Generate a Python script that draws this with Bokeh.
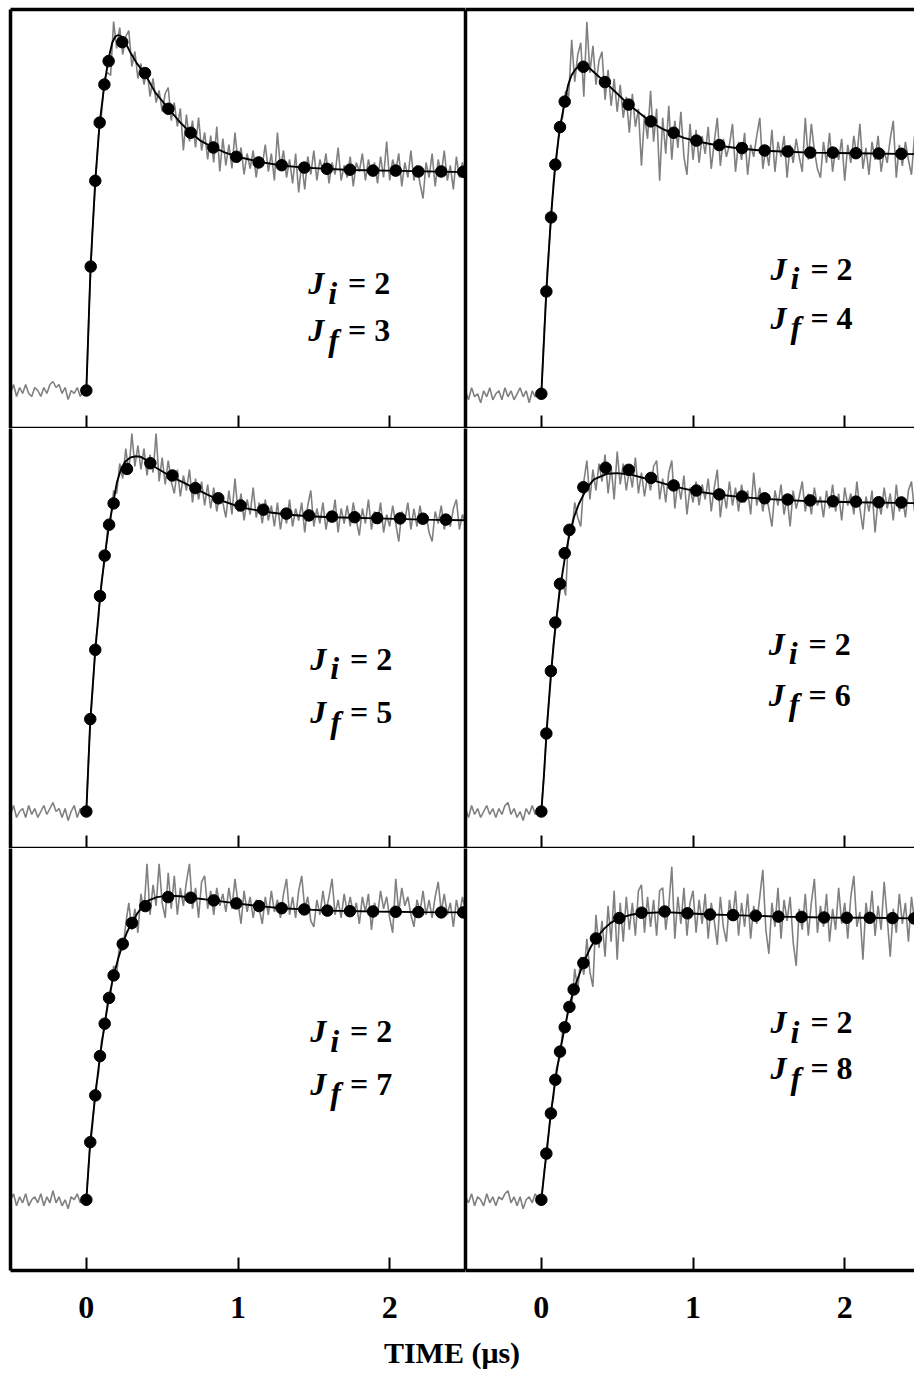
import numpy as np
from bokeh.plotting import figure
from bokeh.layouts import gridplot, column
from bokeh.models import Label, FixedTicker, LinearAxis, Range1d, Div
from bokeh.embed import file_html
from bokeh.resources import INLINE

# ---------------- data (time in microseconds, signal in arbitrary units, baseline = 0) -------------
TICKS = [0, 1, 2]
TRACE_T0 = -0.5
TRACE_DT = 0.02

# J_i = 2 -> J_f = 3
JF3_DOT_T = [0, 0.029, 0.059, 0.088, 0.119, 0.147, 0.237, 0.387, 0.541, 0.688, 0.837, 0.989, 1.136, 1.288, 1.437, 1.586, 1.738, 1.89, 2.04, 2.189, 2.34, 2.485]
JF3_DOT_V = [0, 41.3, 69.9, 89.3, 102.0, 109.8, 116.1, 105.8, 93.9, 85.9, 81.0, 77.9, 76.0, 75.1, 74.3, 73.9, 73.6, 73.3, 73.3, 73.0, 73.0, 72.9]
JF3_FIT_T = [0, 0.028, 0.059, 0.088, 0.119, 0.147, 0.171, 0.191, 0.211, 0.231, 0.257, 0.29, 0.33, 0.389, 0.455, 0.541, 0.62, 0.686, 0.751, 0.837, 0.916, 0.989, 1.134, 1.285, 1.437, 1.74, 2.07, 2.5]
JF3_FIT_V = [0, 41.3, 70.0, 89.3, 102.0, 110.7, 116.0, 118.0, 118.5, 118.0, 116.0, 112.7, 109.3, 105.3, 99.3, 94.0, 89.3, 86.0, 83.3, 81.0, 79.3, 78.0, 76.3, 75.0, 74.3, 73.5, 73.2, 72.8]
JF3_TRACE = [-1, 2, -2, 1, -1, 2, -1, -2, 1, 0, -2, 1, -1, 2, 3, 1, 2, -1, 1, -3, 0, -1, 1, -2, 0,
             0, 30, 53, 69, 85, 92, 104, 106,
             105, 123, 114, 121, 112, 118, 120, 108, 113, 104, 109, 102, 107,
             98, 104, 96, 100, 93, 99, 101, 90, 96, 88, 94, 80, 92, 83, 90, 81, 91, 80, 86, 77,
             85, 76, 88, 73, 84, 75, 82, 74, 86, 76,
             81, 72, 79, 74, 80, 71, 78, 75, 82, 73, 79, 70, 86, 74, 80, 71, 77, 69, 79, 66,
             76, 67, 78, 72, 80, 70, 77, 73, 79, 69, 76, 72, 81, 70, 75, 71, 78, 68, 76, 73,
             79, 70, 77, 72, 76, 69, 78, 71, 83, 70, 77, 73, 79, 68, 76, 71, 80, 70, 75, 69,
             64, 76, 71, 79, 68, 77, 72, 80, 70, 75, 67, 78, 71, 76, 70]

# J_i = 2 -> J_f = 4
JF4_DOT_T = [0, 0.033, 0.064, 0.092, 0.123, 0.154, 0.277, 0.419, 0.575, 0.722, 0.872, 1.022, 1.173, 1.323, 1.472, 1.624, 1.773, 1.922, 2.074, 2.224, 2.373]
JF4_DOT_V = [0, 34.1, 58.8, 76.4, 88.9, 97.4, 109.0, 103.9, 96.4, 90.8, 87.0, 84.4, 82.9, 81.9, 81.1, 80.8, 80.4, 80.4, 80.2, 80.1, 80.0]
JF4_FIT_T = [0, 0.033, 0.063, 0.092, 0.123, 0.154, 0.176, 0.198, 0.226, 0.255, 0.277, 0.303, 0.347, 0.42, 0.501, 0.576, 0.655, 0.723, 0.798, 0.872, 0.94, 1.022, 1.173, 1.323, 1.472, 1.624, 1.773, 2.074, 2.46]
JF4_FIT_V = [0, 34.1, 58.8, 76.4, 88.9, 97.4, 102.8, 106.1, 108.3, 109.4, 109.8, 109.2, 107.2, 103.9, 100.0, 96.4, 93.3, 90.5, 88.3, 86.7, 85.3, 84.2, 82.7, 81.7, 81.0, 80.7, 80.4, 80.2, 79.9]
JF4_TRACE = [1, -2, 2, -1, 0, -3, 1, -1, 2, -2, 0, 1, -2, 2, -1, 1, -2, 0, 2, -1, 1, -3, 1, -1, 0,
             0,
             22, 42, 55, 71, 78, 90, 92, 101, 99, 118, 104, 113, 117, 99, 124, 107, 116, 103, 111, 114,
             98, 108, 96, 105, 94, 103, 92, 99, 87, 100, 89, 95, 76, 93, 85, 101, 84, 95, 71, 92,
             80, 96, 78, 91, 82, 94, 79, 73, 90, 78,
             88, 77, 86, 80, 89, 75, 84, 92, 76, 85, 79, 83, 90, 74, 84, 78, 87, 73, 83, 79,
             86, 92, 75, 82, 76, 88, 74, 84, 79, 86, 72, 83, 77, 85, 79, 74, 92, 78, 90, 81,
             75, 72, 84, 77, 87, 74, 82, 78, 85, 71, 83, 77, 86, 79, 90, 75, 82, 73, 84, 78,
             86, 74, 81, 77, 85, 91, 72, 83, 76, 84, 78, 73, 86, 79, 82]

# J_i = 2 -> J_f = 5
JF5_DOT_T = [0, 0.026, 0.059, 0.090, 0.121, 0.150, 0.180, 0.268, 0.422, 0.567, 0.719, 0.870, 1.017, 1.167, 1.319, 1.468, 1.62, 1.769, 1.918, 2.069, 2.219, 2.37]
JF5_DOT_V = [0, 30.8, 53.9, 71.8, 85.3, 95.6, 102.7, 114.2, 116.1, 112.0, 107.8, 104.4, 102.0, 100.6, 99.3, 98.7, 98.3, 98.1, 97.8, 97.7, 97.6, 97.3]
JF5_FIT_T = [0, 0.026, 0.059, 0.09, 0.121, 0.149, 0.18, 0.202, 0.229, 0.257, 0.29, 0.323, 0.356, 0.4, 0.444, 0.51, 0.567, 0.642, 0.719, 0.795, 0.87, 0.949, 1.017, 1.167, 1.318, 1.468, 1.619, 1.918, 2.219, 2.5]
JF5_FIT_V = [0, 30.4, 53.6, 71.4, 85.0, 95.2, 103.7, 109.8, 114.2, 116.7, 118.0, 118.4, 118.3, 117.0, 115.1, 113.1, 111.4, 109.6, 107.6, 105.7, 104.0, 102.6, 101.4, 100.0, 99.0, 98.4, 98.1, 97.7, 97.3, 97.1]
JF5_TRACE = [-1, 2, -2, 0, 1, -2, 2, -1, 1, -2, 0, 2, -1, 1, 3, 0, 1, -2, 1, -3, 0, 2, -2, 1, 0,
             0,
             24, 39, 56, 64, 77, 83, 94, 97, 107, 106, 116, 111, 121, 113, 126, 115, 122, 114, 121, 112,
             119, 113, 126, 110, 118, 109, 117, 110, 106, 114, 105, 112, 107, 114, 103, 111, 104, 110, 102, 109,
             101, 108, 100, 106, 103, 98, 107, 99, 111, 100,
             106, 97, 104, 99, 108, 98, 103, 96, 104, 97, 102, 95, 103, 94, 101, 96, 104, 95, 101, 97,
             103, 93, 102, 107, 95, 101, 96, 103, 94, 100, 97, 104, 93, 101, 96, 102, 95, 103, 97, 92,
             101, 96, 104, 94, 100, 96, 103, 93, 99, 95, 102, 96, 90, 100, 97, 103, 94, 101, 95, 102,
             96, 99, 93, 90, 100, 96, 102, 94, 99, 95, 101, 104, 94, 99, 96]

# J_i = 2 -> J_f = 6
JF6_DOT_T = [0, 0.033, 0.063, 0.092, 0.123, 0.154, 0.185, 0.277, 0.424, 0.576, 0.723, 0.872, 1.022, 1.173, 1.323, 1.472, 1.624, 1.773, 1.922, 2.074, 2.224, 2.373]
JF6_DOT_V = [0, 26.0, 46.8, 63.0, 75.9, 86.1, 93.9, 108.1, 114.6, 113.9, 111.2, 108.7, 107.0, 105.7, 105.0, 104.4, 104.0, 103.7, 103.4, 103.3, 103.1, 103.0]
JF6_FIT_T = [0, 0.017, 0.033, 0.063, 0.092, 0.123, 0.154, 0.184, 0.215, 0.248, 0.281, 0.314, 0.347, 0.435, 0.501, 0.589, 0.72, 0.872, 1.022, 1.173, 1.323, 1.472, 1.624, 1.773, 2.074, 2.461]
JF6_FIT_V = [0, 12.0, 25.3, 45.9, 61.4, 74.2, 84.2, 92.0, 98.1, 102.6, 105.9, 108.7, 110.7, 112.6, 112.8, 112.3, 110.6, 108.4, 106.7, 105.6, 104.8, 104.2, 103.8, 103.4, 103.1, 102.8]
JF6_TRACE = [1, -2, 2, -1, 1, -2, 0, 2, -1, 1, -2, 1, -1, 2, 3, -1, 1, -2, 0, -3, 1, -1, 2, -1, 0,
             0,
             14, 31, 42, 56, 63, 75, 77, 72, 93, 92, 103, 98, 95, 110, 117, 104, 114, 107, 116, 110,
             119, 106, 115, 104, 120, 109, 116, 107, 114, 108, 118, 106, 113, 105, 112, 107, 115, 117, 104, 111,
             103, 113, 117, 101, 110, 104, 112, 99, 108, 103,
             110, 102, 109, 104, 111, 100, 108, 114, 98, 107, 101, 110, 102, 108, 100, 109, 103, 107, 99, 113,
             102, 108, 100, 106, 101, 95, 107, 102, 109, 99, 105, 95, 107, 101, 105, 110, 100, 106, 99, 108,
             102, 105, 98, 107, 101, 109, 100, 106, 97, 108, 102, 106, 99, 110, 101, 94, 105, 100, 107, 93,
             104, 99, 108, 101, 106, 97, 109, 100, 105, 98, 107, 110, 100, 104, 102]

# J_i = 2 -> J_f = 7
JF7_DOT_T = [0, 0.026, 0.059, 0.090, 0.121, 0.150, 0.180, 0.24, 0.301, 0.389, 0.539, 0.688, 0.84, 0.989, 1.139, 1.288, 1.437, 1.589, 1.738, 1.89, 2.04, 2.189, 2.34, 2.485]
JF7_DOT_V = [0, 19.2, 34.8, 47.9, 58.7, 67.3, 74.8, 85.3, 92.3, 97.9, 100.9, 100.7, 99.8, 98.8, 97.9, 97.2, 96.8, 96.4, 96.2, 96.1, 96.0, 95.9, 95.8, 95.8]
JF7_FIT_T = [0, 0.026, 0.059, 0.09, 0.121, 0.149, 0.18, 0.213, 0.24, 0.268, 0.301, 0.334, 0.367, 0.411, 0.466, 0.539, 0.62, 0.688, 0.84, 0.989, 1.139, 1.288, 1.437, 1.589, 1.89, 2.189, 2.5]
JF7_FIT_V = [0, 19.2, 34.8, 47.9, 58.7, 67.3, 74.8, 80.9, 85.3, 89.2, 92.5, 95.3, 97.5, 99.8, 100.9, 101.4, 101.2, 100.7, 99.8, 98.8, 97.9, 97.2, 96.8, 96.4, 96.1, 95.9, 95.8]
JF7_TRACE = [0, 2, -2, 1, -1, 2, -2, 0, 1, -1, 2, -2, 1, -1, 3, -1, 1, -2, 0, -3, 1, 0, 2, -1, 0,
             0,
             16, 24, 37, 42, 53, 57, 66, 68, 78, 75, 86, 83, 92, 99, 90, 97, 89, 102, 96, 112,
             95, 105, 98, 112, 99, 94, 109, 97, 108, 95, 104, 98, 106, 112, 97, 104, 94, 106, 108, 97,
             103, 95, 104, 98, 102, 96, 104, 97, 107, 99,
             92, 103, 96, 101, 94, 100, 97, 92, 101, 95, 103, 96, 100, 94, 102, 107, 95, 101, 94, 103,
             108, 97, 101, 93, 91, 100, 95, 103, 96, 101, 107, 95, 100, 94, 102, 96, 101, 95, 99, 92,
             101, 96, 102, 90, 99, 95, 103, 97, 101, 94, 89, 107, 96, 104, 98, 101, 95, 91, 100, 96,
             103, 95, 100, 94, 101, 106, 96, 102, 95, 99, 91, 100, 95, 101, 96]

# J_i = 2 -> J_f = 8
JF8_DOT_T = [0, 0.033, 0.063, 0.092, 0.123, 0.154, 0.185, 0.213, 0.277, 0.36, 0.514, 0.661, 0.813, 0.963, 1.112, 1.264, 1.413, 1.563, 1.715, 1.864, 2.013, 2.165, 2.315, 2.458]
JF8_DOT_V = [0, 15.4, 28.8, 40.0, 49.4, 57.5, 64.3, 70.1, 78.9, 87.1, 93.9, 95.7, 96.1, 95.5, 95.1, 94.9, 94.7, 94.4, 94.3, 94.1, 94.0, 94.0, 93.9, 93.8]
JF8_FIT_T = [0, 0.033, 0.063, 0.092, 0.123, 0.154, 0.184, 0.213, 0.248, 0.277, 0.325, 0.36, 0.413, 0.457, 0.514, 0.589, 0.661, 0.813, 0.963, 1.112, 1.264, 1.563, 1.864, 2.165, 2.461]
JF8_FIT_V = [0, 15.4, 28.8, 40.0, 49.4, 57.5, 64.3, 70.1, 74.8, 78.9, 84.2, 87.1, 90.3, 92.3, 93.9, 95.0, 95.5, 95.9, 95.5, 95.1, 94.9, 94.4, 94.1, 94.0, 93.8]
JF8_TRACE = [1, -1, 2, -2, 1, 0, -2, 2, -1, 1, -2, 1, 0, 2, 3, -1, 1, -2, 1, -3, 0, 1, -1, 2, 0,
             0,
             10, 17, 29, 34, 44, 47, 56, 57, 66, 64, 77, 70, 81, 75, 87, 76, 71, 95, 84, 93,
             81, 98, 86, 103, 80, 99, 86, 101, 90, 99, 88, 103, 105, 89, 101, 91, 100, 88, 103, 104,
             90, 98, 111, 87, 101, 92, 104, 88, 99, 103,
             89, 100, 92, 102, 87, 99, 93, 85, 101, 91, 86, 100, 93, 103, 88, 99, 91, 102, 87, 98,
             92, 101, 110, 90, 82, 99, 91, 104, 87, 100, 93, 101, 86, 78, 97, 90, 102, 88, 99, 107,
             89, 98, 91, 102, 86, 97, 90, 104, 92, 99, 87, 101, 108, 91, 96, 80, 99, 92, 103, 88,
             98, 90, 106, 94, 81, 97, 89, 102, 92, 99, 86, 101, 93, 97, 94]

J_INITIAL = "2"
J_FINAL = ["3", "4", "5", "6", "7", "8"]

# ---------------- layout / style -------------------------------------------------------------
SERIF = "Liberation Serif"
BORDER_W = 3.5
TRACE_COLOR = "#808080"
FRAME_W = [455, 449]
FRAME_H = [419, 420, 422]
X_RANGES = [(-0.5, 2.5), (-0.5, 2.46)]
Y_RANGES = [(-12.67, 127.0), (-11.57, 128.1),
            (-12.33, 127.67), (-12.33, 127.67),
            (-23.57, 117.1), (-23.57, 117.1)]
# label anchors (right end of "= n" text, baselines of the two lines) in data units
LABEL_POS = [(2.004, 35.8, 20.0), (2.052, 41.7, 25.3),
             (2.017, 50.9, 33.1), (2.039, 55.9, 38.9),
             (2.017, 56.1, 38.7), (2.052, 59.2, 43.9)]
LABEL_SIZE = "32px"

PANELS = [
    (JF3_DOT_T, JF3_DOT_V, JF3_FIT_T, JF3_FIT_V, JF3_TRACE),
    (JF4_DOT_T, JF4_DOT_V, JF4_FIT_T, JF4_FIT_V, JF4_TRACE),
    (JF5_DOT_T, JF5_DOT_V, JF5_FIT_T, JF5_FIT_V, JF5_TRACE),
    (JF6_DOT_T, JF6_DOT_V, JF6_FIT_T, JF6_FIT_V, JF6_TRACE),
    (JF7_DOT_T, JF7_DOT_V, JF7_FIT_T, JF7_FIT_V, JF7_TRACE),
    (JF8_DOT_T, JF8_DOT_V, JF8_FIT_T, JF8_FIT_V, JF8_TRACE),
]


def border_axis(ticks, tick_len=0, show_labels=False, standoff=0):
    ax = LinearAxis(ticker=FixedTicker(ticks=ticks, minor_ticks=[]))
    ax.axis_line_color = "black"
    ax.axis_line_width = BORDER_W
    ax.major_tick_in = tick_len
    ax.major_tick_out = 0
    ax.major_tick_line_width = 2
    ax.major_tick_line_color = "black"
    ax.minor_tick_line_color = None
    ax.major_label_text_font = SERIF
    ax.major_label_text_font_style = "bold"
    if show_labels:
        ax.major_label_text_font_size = "32px"
        ax.major_label_text_color = "black"
    else:
        ax.major_label_text_font_size = "0px"
        ax.major_label_text_color = None
    ax.major_label_standoff = standoff
    ax.axis_label_standoff = 0
    return ax


def make_panel(idx):
    row, col = divmod(idx, 2)
    dot_t, dot_v, fit_t, fit_v, trace = PANELS[idx]
    p = figure(frame_width=FRAME_W[col], frame_height=FRAME_H[row],
               x_range=Range1d(*X_RANGES[col]), y_range=Range1d(*Y_RANGES[idx]),
               output_backend="svg", toolbar_location=None, tools="",
               x_axis_location=None, y_axis_location=None,
               min_border_left=10 if col == 0 else 0, min_border_right=0,
               min_border_top=9 if row == 0 else 0,
               min_border_bottom=64 if row == 2 else 0)
    p.outline_line_color = None
    p.background_fill_color = "white"
    p.border_fill_color = "white"
    p.grid.visible = False

    trace_t = TRACE_T0 + TRACE_DT * np.arange(len(trace))
    p.line(trace_t, trace, line_color=TRACE_COLOR, line_width=1.6)
    p.line(fit_t, fit_v, line_color="black", line_width=1.9)
    p.scatter(dot_t, dot_v, size=11.5, fill_color="black", line_color="black")

    bottom = row == 2
    p.add_layout(border_axis(TICKS, tick_len=13, show_labels=bottom,
                             standoff=26 if bottom else 0), "below")
    if row == 0:
        p.add_layout(border_axis([]), "above")
    if col == 0:
        p.add_layout(border_axis([]), "left")
        p.add_layout(border_axis([]), "right")
    else:
        p.add_layout(border_axis([]), "left")

    xr, y1, y2 = LABEL_POS[idx]
    for sub, num, yb in (("i", J_INITIAL, y1), ("f", J_FINAL[idx], y2)):
        p.add_layout(Label(x=xr, y=yb, text="J", x_offset=-82,
                           text_font=SERIF, text_font_style="bold italic",
                           text_font_size=LABEL_SIZE, text_align="left",
                           text_baseline="alphabetic", text_color="black"))
        p.add_layout(Label(x=xr, y=yb - 3.2, text=sub, x_offset=-62,
                           text_font=SERIF, text_font_style="bold italic",
                           text_font_size=LABEL_SIZE, text_align="left",
                           text_baseline="alphabetic", text_color="black"))
        p.add_layout(Label(x=xr, y=yb, text="= " + num,
                           text_font=SERIF, text_font_style="bold",
                           text_font_size=LABEL_SIZE, text_align="right",
                           text_baseline="alphabetic", text_color="black"))
    return p


panels = [make_panel(i) for i in range(6)]
grid = gridplot([[panels[0], panels[1]], [panels[2], panels[3]], [panels[4], panels[5]]],
                toolbar_location=None)

xlabel = Div(text="TIME (\u03bcs)", width=894, height=36,
             styles={"font-family": SERIF, "font-weight": "bold", "font-size": "30px",
                     "line-height": "28px", "text-align": "center", "color": "black"})

layout = column(grid, xlabel)
open("out.html", "w").write(file_html(layout, INLINE))
